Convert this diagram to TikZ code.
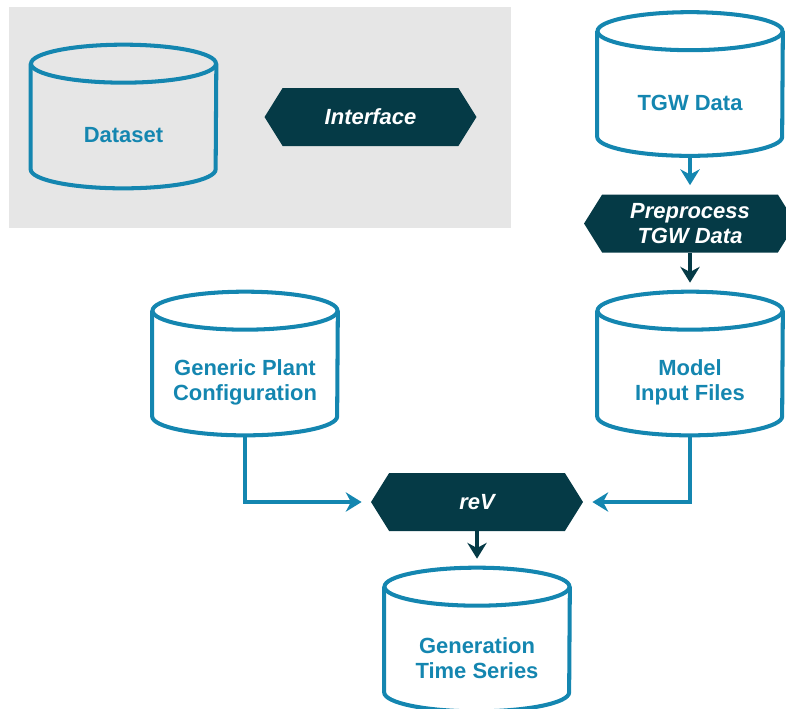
\documentclass[tikz,border=0pt]{standalone}
\usepackage{fontspec}
\setmainfont{Liberation Sans}
\usepackage{tikz}
\usetikzlibrary{arrows.meta,positioning,calc,shapes.symbols}

\definecolor{dbteal}{RGB}{20,134,176}
\definecolor{procdark}{RGB}{5,58,70}
\definecolor{panelgray}{RGB}{230,230,230}

% database drum: front face is the node, top ellipse and bottom arc drawn round it
\newcommand{\dbcyl}[3]{%
  \node[dbbody] (#1) at (#2) {#3};
  \draw[dbline] ([yshift=0.38cm]#1.north) ellipse [x radius=1.85cm, y radius=0.38cm];
  \draw[dbline] ([yshift=0.38cm]#1.north west) -- ([yshift=0.38cm]#1.south west)
    arc[start angle=180, end angle=360, x radius=1.85cm, y radius=0.38cm]
    -- ([yshift=0.38cm]#1.north east);
  \coordinate (#1-top) at ([yshift=0.76cm]#1.north);
}

\begin{document}
\begin{tikzpicture}[
  x=0.02cm, y=-0.02cm,
  font=\fontsize{12.5}{14.2}\selectfont\bfseries,
  dbbody/.style={rectangle, inner sep=0pt, minimum width=3.7cm, minimum height=2.1cm, align=center, text=dbteal},
  dbline/.style={draw=dbteal, line width=2.3pt},
  proc/.style={signal, signal to=west and east, signal pointer angle=116, fill=procdark, text=white, font=\fontsize{12.5}{14.2}\selectfont\bfseries\itshape, align=center, minimum width=4.24cm, minimum height=1.16cm, inner sep=0pt},
  tarrow/.style={-{Stealth[length=9pt, width=11pt]}, draw=dbteal, line width=2pt, shorten >=0.18cm},
  darrow/.style={-{Stealth[length=9pt, width=11pt]}, draw=procdark, line width=2pt, shorten >=0.18cm}
]
\useasboundingbox (0,0) rectangle (786,708);
\fill[panelgray] (9,7) rectangle (511,228);

\dbcyl{data}{123.5,135.5}{Dataset}
\node[proc] (iface) at (370.5,117) {Interface};

\dbcyl{tgw}{690,103}{TGW Data}
\node[proc] (prep) at (690,223.5) {Preprocess\\TGW Data};
\dbcyl{model}{690,382.5}{Model\\Input Files}
\dbcyl{plant}{245,382.5}{Generic Plant\\Configuration}
\node[proc] (rev) at (477,502) {reV};
\dbcyl{gen}{477,658.5}{Generation\\Time Series}

\draw[tarrow] (tgw.south) -- (prep.north);
\draw[darrow] (prep.south) -- (model-top);
\draw[tarrow] (plant.south) |- (rev.west);
\draw[tarrow] (model.south) |- (rev.east);
\draw[darrow] (rev.south) -- (gen-top);
\end{tikzpicture}
\end{document}
